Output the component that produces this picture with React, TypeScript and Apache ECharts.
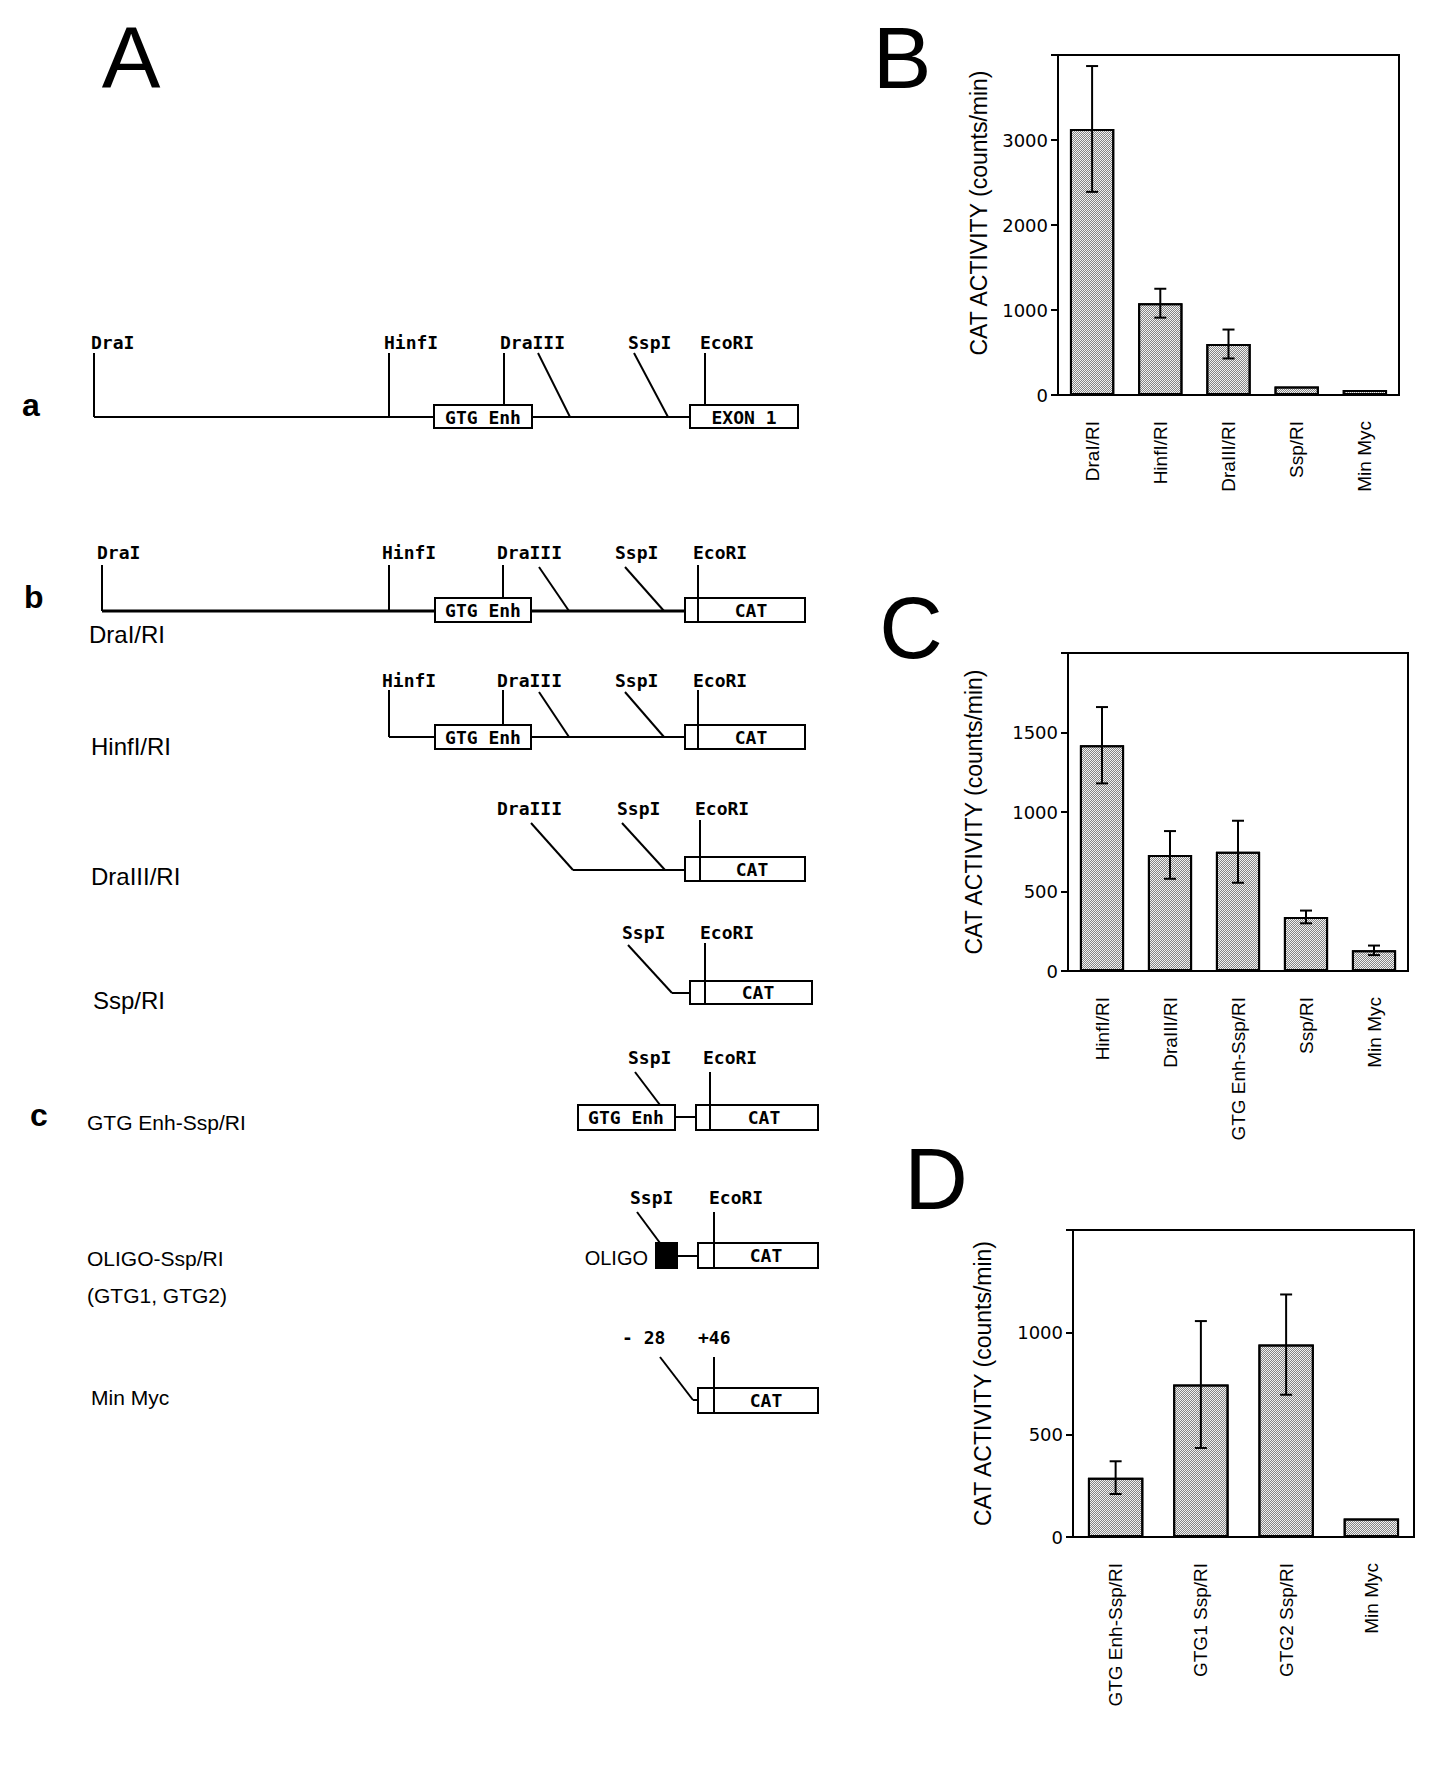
import React, { useEffect, useRef } from "react";
import * as echarts from "echarts";

// ---- Panel B data ----
const bCategories = ["DraI/RI", "HinfI/RI", "DraIII/RI", "Ssp/RI", "Min Myc"];
const bValues = [3130, 1080, 600, 100, 60];
const bErrors = [740, 170, 170, 0, 0];
const bAxis = { max: 4000, interval: 1000 };

// ---- Panel C data ----
const cCategories = ["HinfI/RI", "DraIII/RI", "GTG Enh-Ssp/RI", "Ssp/RI", "Min Myc"];
const cValues = [1420, 730, 750, 340, 130];
const cErrors = [240, 150, 195, 40, 30];
const cAxis = { max: 2000, interval: 500 };

// ---- Panel D data ----
const dCategories = ["GTG Enh-Ssp/RI", "GTG1 Ssp/RI", "GTG2 Ssp/RI", "Min Myc"];
const dValues = [290, 745, 940, 90];
const dErrors = [80, 310, 245, 0];
const dAxis = { max: 1500, interval: 500 };

const yName = "CAT ACTIVITY (counts/min)";

const SITE_FONT = "bold 18px 'DejaVu Sans Mono'";
const BLACK = "#000";

function txt(text: string, x: number, y: number, font: string, align = "left", vAlign = "middle") {
  return {
    type: "text",
    x,
    y,
    style: {
      text,
      font,
      fill: BLACK,
      align,
      verticalAlign: vAlign,
      textAlign: align,
      textVerticalAlign: vAlign,
    },
    z: 10,
  };
}
function ln(x1: number, y1: number, x2: number, y2: number, w = 2) {
  return { type: "line", shape: { x1, y1, x2, y2 }, style: { stroke: BLACK, lineWidth: w }, z: 10 };
}
function box(x: number, y: number, w: number, h: number, fill = "#fff") {
  return { type: "rect", shape: { x, y, width: w, height: h }, style: { fill, stroke: BLACK, lineWidth: 2 }, z: 10 };
}

function diagram(): any[] {
  const g: any[] = [];
  const LBL = "24px 'Liberation Sans'";
  const LBLc = "21px 'Liberation Sans'";
  const ROW = "bold 32px 'Liberation Sans'";
  const BIG = "88px 'Liberation Sans'";
  // panel letters
  g.push(txt("A", 131, 57, BIG, "center"));
  g.push(txt("B", 902, 57, BIG, "center"));
  g.push(txt("C", 911, 627, BIG, "center"));
  g.push(txt("D", 936, 1178, BIG, "center"));

  // row a
  g.push(txt("a", 22, 405, ROW));
  g.push(ln(94, 417, 434, 417));
  g.push(ln(532, 417, 690, 417));
  g.push(ln(94, 353, 94, 417));
  g.push(ln(389, 353, 389, 417));
  g.push(ln(504, 353, 504, 405));
  g.push(ln(538, 353, 570, 417));
  g.push(ln(634, 353, 668, 417));
  g.push(ln(705, 353, 705, 405));
  g.push(box(434, 405, 98, 23));
  g.push(txt("GTG Enh", 483, 417, SITE_FONT, "center"));
  g.push(box(690, 405, 108, 23));
  g.push(txt("EXON 1", 744, 417, SITE_FONT, "center"));
  g.push(txt("DraI", 91, 342, SITE_FONT));
  g.push(txt("HinfI", 384, 342, SITE_FONT));
  g.push(txt("DraIII", 500, 342, SITE_FONT));
  g.push(txt("SspI", 628, 342, SITE_FONT));
  g.push(txt("EcoRI", 700, 342, SITE_FONT));

  // row b: DraI/RI
  g.push(txt("b", 24, 597, ROW));
  g.push(ln(102, 611, 435, 611, 3));
  g.push(ln(531, 611, 685, 611, 3));
  g.push(ln(102, 565, 102, 611));
  g.push(ln(389, 565, 389, 611));
  g.push(ln(503, 565, 503, 598));
  g.push(ln(539, 567, 569, 611));
  g.push(ln(625, 567, 664, 611));
  g.push(box(435, 598, 96, 24));
  g.push(txt("GTG Enh", 483, 610, SITE_FONT, "center"));
  g.push(box(685, 598, 120, 24));
  g.push(ln(698, 565, 698, 622));
  g.push(txt("CAT", 751, 610, SITE_FONT, "center"));
  g.push(txt("DraI", 97, 552, SITE_FONT));
  g.push(txt("HinfI", 382, 552, SITE_FONT));
  g.push(txt("DraIII", 497, 552, SITE_FONT));
  g.push(txt("SspI", 615, 552, SITE_FONT));
  g.push(txt("EcoRI", 693, 552, SITE_FONT));
  g.push(txt("DraI/RI", 89, 634, LBL));

  // row HinfI/RI
  g.push(ln(389, 690, 389, 737));
  g.push(ln(389, 737, 435, 737));
  g.push(ln(531, 737, 685, 737));
  g.push(ln(503, 690, 503, 725));
  g.push(ln(539, 692, 569, 737));
  g.push(ln(625, 692, 664, 737));
  g.push(box(435, 725, 96, 24));
  g.push(txt("GTG Enh", 483, 737, SITE_FONT, "center"));
  g.push(box(685, 725, 120, 24));
  g.push(ln(698, 690, 698, 749));
  g.push(txt("CAT", 751, 737, SITE_FONT, "center"));
  g.push(txt("HinfI", 382, 680, SITE_FONT));
  g.push(txt("DraIII", 497, 680, SITE_FONT));
  g.push(txt("SspI", 615, 680, SITE_FONT));
  g.push(txt("EcoRI", 693, 680, SITE_FONT));
  g.push(txt("HinfI/RI", 91, 746, LBL));

  // row DraIII/RI
  g.push(ln(531, 823, 573, 870));
  g.push(ln(573, 870, 685, 870));
  g.push(ln(622, 823, 665, 870));
  g.push(box(685, 857, 120, 24));
  g.push(ln(700, 820, 700, 881));
  g.push(txt("CAT", 752, 869, SITE_FONT, "center"));
  g.push(txt("DraIII", 497, 808, SITE_FONT));
  g.push(txt("SspI", 617, 808, SITE_FONT));
  g.push(txt("EcoRI", 695, 808, SITE_FONT));
  g.push(txt("DraIII/RI", 91, 876, LBL));

  // row Ssp/RI
  g.push(ln(628, 945, 672, 993));
  g.push(ln(672, 993, 690, 993));
  g.push(box(690, 981, 122, 23));
  g.push(ln(705, 943, 705, 1004));
  g.push(txt("CAT", 758, 992, SITE_FONT, "center"));
  g.push(txt("SspI", 622, 932, SITE_FONT));
  g.push(txt("EcoRI", 700, 932, SITE_FONT));
  g.push(txt("Ssp/RI", 93, 1000, LBL));

  // row c: GTG Enh-Ssp/RI
  g.push(txt("c", 30, 1115, ROW));
  g.push(ln(635, 1072, 660, 1105));
  g.push(box(578, 1105, 97, 25));
  g.push(txt("GTG Enh", 626, 1117, SITE_FONT, "center"));
  g.push(ln(675, 1117, 696, 1117));
  g.push(box(696, 1105, 122, 25));
  g.push(ln(710, 1072, 710, 1130));
  g.push(txt("CAT", 764, 1117, SITE_FONT, "center"));
  g.push(txt("SspI", 628, 1057, SITE_FONT));
  g.push(txt("EcoRI", 703, 1057, SITE_FONT));
  g.push(txt("GTG Enh-Ssp/RI", 87, 1122, LBLc));

  // row OLIGO-Ssp/RI
  g.push(ln(637, 1212, 660, 1243));
  g.push(box(656, 1243, 21, 25, "#000"));
  g.push(txt("OLIGO", 648, 1258, "20px 'Liberation Sans'", "right"));
  g.push(ln(677, 1256, 698, 1256));
  g.push(box(698, 1243, 120, 25));
  g.push(ln(714, 1212, 714, 1268));
  g.push(txt("CAT", 766, 1255, SITE_FONT, "center"));
  g.push(txt("SspI", 630, 1197, SITE_FONT));
  g.push(txt("EcoRI", 709, 1197, SITE_FONT));
  g.push(txt("OLIGO-Ssp/RI", 87, 1258, LBLc));
  g.push(txt("(GTG1, GTG2)", 87, 1295, LBLc));

  // row Min Myc
  g.push(ln(660, 1357, 693, 1400));
  g.push(ln(693, 1400, 698, 1400));
  g.push(box(698, 1388, 120, 25));
  g.push(ln(714, 1357, 714, 1413));
  g.push(txt("CAT", 766, 1400, SITE_FONT, "center"));
  g.push(txt("- 28", 622, 1337, SITE_FONT));
  g.push(txt("+46", 698, 1337, SITE_FONT));
  g.push(txt("Min Myc", 91, 1397, LBLc));
  return g;
}

const decal = {
  symbol: "rect",
  symbolSize: 1,
  color: "rgba(0,0,0,0.45)",
  dashArrayX: [[1, 1], [0, 1, 1, 0]],
  dashArrayY: [1, 0],
};

function axesFor(idx: number, cats: string[], ax: { max: number; interval: number }, nameGap: number, namePad: number[]) {
  const x = {
    type: "category",
    gridIndex: idx,
    data: cats,
    axisLine: { lineStyle: { color: BLACK, width: 2 } },
    axisTick: { alignWithLabel: true, length: 10, lineStyle: { color: BLACK, width: 2 } },
    axisLabel: { rotate: 90, margin: 26, fontSize: 19, color: BLACK, fontFamily: "Liberation Sans", interval: 0 },
  };
  const y = {
    type: "value",
    gridIndex: idx,
    min: 0,
    max: ax.max,
    interval: ax.interval,
    axisLine: { show: true, lineStyle: { color: BLACK, width: 2 } },
    axisTick: { show: true, length: 7, lineStyle: { color: BLACK, width: 2 } },
    splitLine: { show: false },
    axisLabel: {
      color: BLACK,
      fontSize: 18,
      fontFamily: "DejaVu Sans",
      margin: 10,
      formatter: (v: number) => (v === ax.max ? "" : String(v)),
    },
    name: yName,
    nameLocation: "middle",
    nameGap,
    nameTextStyle: { color: BLACK, fontSize: 23, fontFamily: "Liberation Sans", padding: namePad },
  };
  return { x, y };
}

function barSeries(idx: number, values: number[]) {
  return {
    type: "bar",
    xAxisIndex: idx,
    yAxisIndex: idx,
    data: values,
    barWidth: "65%",
    itemStyle: { color: "#f2f2f2", borderColor: BLACK, borderWidth: 2, decal },
    z: 2,
  };
}

function errSeries(idx: number, values: number[], errors: number[]) {
  const data: number[][] = [];
  values.forEach((v, i) => {
    if (errors[i] > 0) data.push([i, v - errors[i], v + errors[i]]);
  });
  return {
    type: "custom",
    xAxisIndex: idx,
    yAxisIndex: idx,
    data,
    encode: { x: 0, y: [1, 2] },
    z: 5,
    renderItem: (params: any, api: any) => {
      const i = api.value(0);
      const lo = api.coord([i, api.value(1)]);
      const hi = api.coord([i, api.value(2)]);
      const hw = 6;
      const st = { stroke: BLACK, lineWidth: 2 };
      return {
        type: "group",
        children: [
          { type: "line", shape: { x1: lo[0], y1: lo[1], x2: hi[0], y2: hi[1] }, style: st },
          { type: "line", shape: { x1: hi[0] - hw, y1: hi[1], x2: hi[0] + hw, y2: hi[1] }, style: st },
          { type: "line", shape: { x1: lo[0] - hw, y1: lo[1], x2: lo[0] + hw, y2: lo[1] }, style: st },
        ],
      };
    },
  };
}

export default function App() {
  const ref = useRef<HTMLDivElement>(null);
  useEffect(() => {
    if (!ref.current) return;
    const chart = echarts.init(ref.current, undefined, { renderer: "svg" });
    const B = axesFor(0, bCategories, bAxis, 68, [0, 0, 0, 24]);
    const C = axesFor(1, cCategories, cAxis, 83, [0, 0, 0, 0]);
    const D = axesFor(2, dCategories, dAxis, 79, [0, 0, 0, 0]);
    const gridStyle = { show: true, borderColor: BLACK, borderWidth: 2, backgroundColor: "transparent" };
    chart.setOption({
      animation: false,
      backgroundColor: "#fff",
      grid: [
        { left: 1058, top: 55, width: 341, height: 340, ...gridStyle },
        { left: 1068, top: 653, width: 340, height: 318, ...gridStyle },
        { left: 1073, top: 1230, width: 341, height: 307, ...gridStyle },
      ],
      xAxis: [B.x, C.x, D.x],
      yAxis: [B.y, C.y, D.y],
      series: [
        barSeries(0, bValues),
        errSeries(0, bValues, bErrors),
        barSeries(1, cValues),
        errSeries(1, cValues, cErrors),
        barSeries(2, dValues),
        errSeries(2, dValues, dErrors),
      ],
      graphic: diagram(),
    });
    return () => chart.dispose();
  }, []);
  return (
    <div
      ref={ref}
      style={{ position: "absolute", left: 0, top: 0, width: 1439, height: 1781, background: "#fff" }}
    />
  );
}
